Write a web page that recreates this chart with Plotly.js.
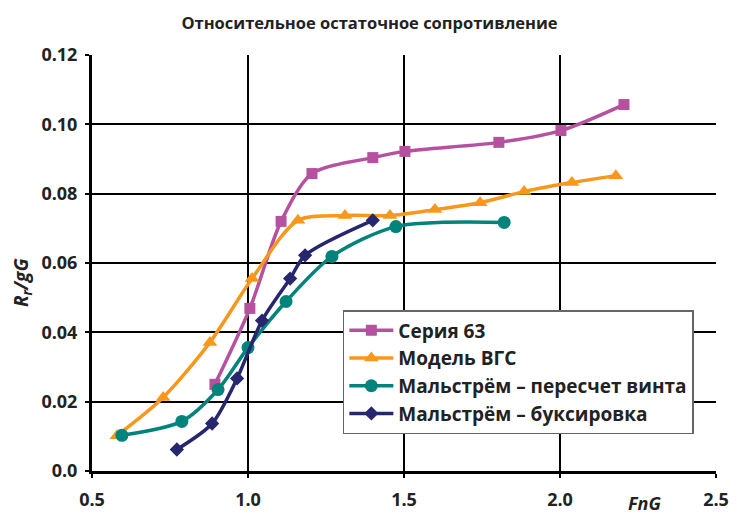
<!DOCTYPE html>
<html><head><meta charset="utf-8">
<script src="https://cdn.plot.ly/plotly-3.0.1.min.js"></script>
<style>html,body{margin:0;padding:0;background:#fff}#chart{width:739px;height:515px}</style>
</head><body><div id="chart"></div>
<script>
const seriesNames = ["Серия 63", "Модель ВГС", "Мальстрём – пересчет винта", "Мальстрём – буксировка"];
const seriesColors = ["#b5519e", "#f7981d", "#00837a", "#27276f"];
const seriesSymbols = ["square", "triangle-up", "circle", "diamond"];

const s63X = [0.894, 1.006, 1.106, 1.205, 1.40, 1.503, 1.804, 2.003, 2.205];
const s63Y = [0.0250, 0.0469, 0.0720, 0.0858, 0.0904, 0.0922, 0.0948, 0.0982, 0.1057];

const vgsX = [0.580, 0.728, 0.878, 1.013, 1.160, 1.311, 1.455, 1.599, 1.744, 1.885, 2.038, 2.179];
const vgsY = [0.0102, 0.0212, 0.0371, 0.0555, 0.0723, 0.0737, 0.0737, 0.0754, 0.0774, 0.0806, 0.0832, 0.0852];

const malPropX = [0.596, 0.788, 0.904, 1.000, 1.122, 1.269, 1.474, 1.821];
const malPropY = [0.0103, 0.0143, 0.0235, 0.0356, 0.0489, 0.0619, 0.0705, 0.0717];

const malTowX = [0.772, 0.885, 0.965, 1.045, 1.135, 1.183, 1.400];
const malTowY = [0.0062, 0.0137, 0.0267, 0.0434, 0.0555, 0.0622, 0.0723];

const xTickVals = [0.5, 1.0, 1.5, 2.0, 2.5];
const xTickText = ["0.5", "1.0", "1.5", "2.0", "2.5"];
const yTickVals = [0, 0.02, 0.04, 0.06, 0.08, 0.10, 0.12];
const yTickText = ["0.0", "0.02", "0.04", "0.06", "0.08", "0.10", "0.12"];

const xs = [s63X, vgsX, malPropX, malTowX];
const ys = [s63Y, vgsY, malPropY, malTowY];
const sizes = [11, 13, 13, 11];

const traces = xs.map((x, i) => ({
  x: x, y: ys[i], name: "<b>" + seriesNames[i] + "</b>", type: "scatter", mode: "lines+markers",
  line: {color: seriesColors[i], width: 3.5, shape: "spline", smoothing: 0.8},
  marker: {color: seriesColors[i], symbol: seriesSymbols[i], size: sizes[i]},
  cliponaxis: false
}));

const font = "'Open Sans', 'Noto Sans', sans-serif";
const bold = a => a.map(t => "<b>" + t + "</b>");
const layout = {
  width: 739, height: 515,
  margin: {l: 92, r: 23, t: 55, b: 44},
  paper_bgcolor: "#fff", plot_bgcolor: "#fff",
  showlegend: true,
  title: {text: "<b>Относительное остаточное сопротивление</b>", x: 0.5, xref: "container", y: 0.955, yanchor: "middle",
          font: {family: font, size: 16.5, color: "#222"}},
  xaxis: {range: [0.5, 2.5], tickvals: xTickVals, ticktext: bold(xTickText), showgrid: true, gridcolor: "#000", gridwidth: 2,
          showline: true, linecolor: "#000", linewidth: 3, ticks: "outside", ticklen: 4, tickwidth: 2, tickcolor: "#000",
          ticklabelstandoff: 6,
          tickfont: {family: font, size: 18, color: "#222"}, zeroline: false, fixedrange: true},
  yaxis: {range: [0, 0.12], tickvals: yTickVals, ticktext: bold(yTickText), showgrid: true, gridcolor: "#000", gridwidth: 2,
          showline: true, linecolor: "#000", linewidth: 3, ticks: "outside", ticklen: 4, tickwidth: 2, tickcolor: "#000",
          ticklabelstandoff: 4,
          tickfont: {family: font, size: 18, color: "#222"}, zeroline: false, fixedrange: true},
  legend: {x: 0.402, y: 0.387, xanchor: "left", yanchor: "top", bgcolor: "#fff", bordercolor: "#666", borderwidth: 1.5,
           font: {family: font, size: 19, color: "#222"}, tracegroupgap: 0, itemwidth: 44},
  annotations: [
    {text: "<b><i>FnG</i></b>", xref: "paper", yref: "paper", x: 0.885, y: -0.077, xanchor: "center", yanchor: "middle",
     showarrow: false, font: {family: font, size: 18, color: "#222"}},
    {text: "<b><i>R<sub>r</sub>/gG</i></b>", xref: "paper", yref: "paper", x: -0.112, y: 0.452, xanchor: "center", yanchor: "middle",
     textangle: -90, showarrow: false, font: {family: font, size: 19, color: "#222"}}
  ]
};
Plotly.newPlot("chart", traces, layout, {displayModeBar: false, staticPlot: true});
</script></body></html>
